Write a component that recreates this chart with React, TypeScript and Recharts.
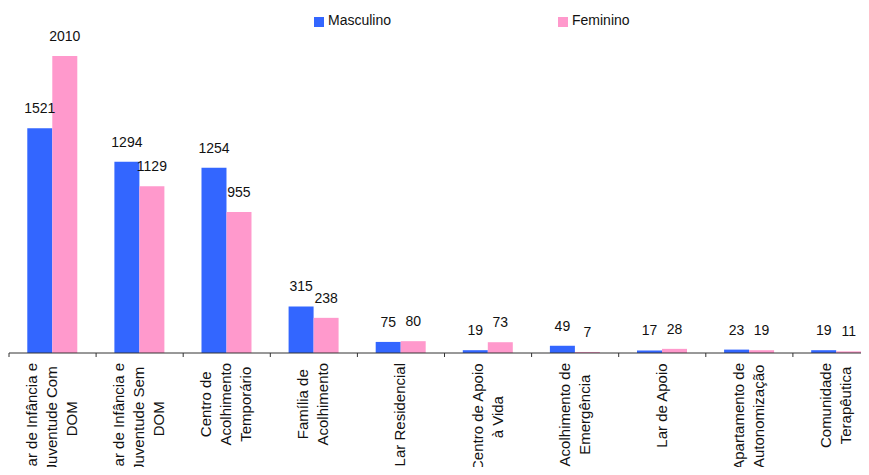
import React from 'react';
import { BarChart, Bar, XAxis, YAxis, Legend, LabelList } from 'recharts';

// Response types (each label line separated by "\n")
const categories: string[] = [
  'Lar de Infância e\nJuventude Com\nDOM',
  'Lar de Infância e\nJuventude Sem\nDOM',
  'Centro de\nAcolhimento\nTemporário',
  'Família de\nAcolhimento',
  'Lar Residencial',
  'Centro de Apoio\nà Vida',
  'Acolhimento de\nEmergência',
  'Lar de Apoio',
  'Apartamento de\nAutonomização',
  'Comunidade\nTerapêutica',
];

const masculino: number[] = [1521, 1294, 1254, 315, 75, 19, 49, 17, 23, 19];
const feminino: number[] = [2010, 1129, 955, 238, 80, 73, 7, 28, 19, 11];

const seriesNames = ['Masculino', 'Feminino'];
const seriesColors = ['#3366FF', '#FF99CC'];

const data = categories.map((name, i) => ({
  name,
  masculino: masculino[i],
  feminino: feminino[i],
}));

// Layout
const CHART_W = 872;
const CHART_H = 467;
const MARGIN = { top: 20, right: 0, bottom: 0, left: 1 };
const X_AXIS_H = 122;
const AXIS_Y = CHART_H - MARGIN.bottom - X_AXIS_H;
const BAND = (CHART_W - MARGIN.left - MARGIN.right) / categories.length;
const FONT = "'Liberation Sans', Arial, Helvetica, sans-serif";
const AXIS_COLOR = '#333333';
const TEXT_COLOR = '#111111';
const TICK_FONT_SIZE = 15;
const LINE_PITCH = 20;
const LABEL_TOP = AXIS_Y + 10;

let measureCtx: CanvasRenderingContext2D | null = null;
function measure(text: string): number {
  if (!measureCtx) {
    const c = document.createElement('canvas');
    measureCtx = c.getContext('2d');
  }
  if (!measureCtx) return text.length * TICK_FONT_SIZE * 0.5;
  measureCtx.font = `${TICK_FONT_SIZE}px ${FONT}`;
  return measureCtx.measureText(text).width;
}

// Rotated, multi-line category label with a tick mark at the left category boundary
function CategoryTick(props: any) {
  const { x, payload } = props;
  const lines: string[] = String(payload.value).split('\n');
  const widest = Math.max(...lines.map(measure));
  const boundary = x - BAND / 2;
  return (
    <g>
      <line x1={boundary} x2={boundary} y1={AXIS_Y} y2={AXIS_Y + 4} stroke={AXIS_COLOR} strokeWidth={1} />
      <g transform={`translate(${x}, ${LABEL_TOP}) rotate(-90)`}>
        {lines.map((line, i) => (
          <text
            key={i}
            x={-widest / 2}
            y={(i - (lines.length - 1) / 2) * LINE_PITCH - 1}
            textAnchor="middle"
            dominantBaseline="central"
            fontFamily={FONT}
            fontSize={TICK_FONT_SIZE}
            fill={TEXT_COLOR}
          >
            {line}
          </text>
        ))}
      </g>
    </g>
  );
}

function ValueLabel(props: any) {
  const { x, y, width, value } = props;
  return (
    <text
      x={x + width / 2}
      y={y - 15}
      textAnchor="middle"
      fontFamily={FONT}
      fontSize={14}
      fill={TEXT_COLOR}
    >
      {value}
    </text>
  );
}

const LEGEND_ITEM_X = [0, 244];

function LegendContent(props: any) {
  const payload: any[] = [...(props.payload || [])].sort(
    (a, b) => seriesNames.indexOf(a.value) - seriesNames.indexOf(b.value)
  );
  return (
    <div style={{ position: 'relative', width: 400, height: 20, fontFamily: FONT, fontSize: 14, color: TEXT_COLOR }}>
      {payload.map((item, i) => (
        <div
          key={item.value}
          style={{ position: 'absolute', left: LEGEND_ITEM_X[i], top: 0, height: 16, whiteSpace: 'nowrap' }}
        >
          <span
            style={{
              position: 'absolute',
              left: 0,
              top: 5,
              width: 10,
              height: 10,
              background: item.color,
            }}
          />
          <span style={{ position: 'absolute', left: 14, top: 0, lineHeight: '16px' }}>{item.value}</span>
        </div>
      ))}
    </div>
  );
}

export default function App() {
  return (
    <div style={{ width: 854, height: CHART_H, overflow: 'hidden', marginBottom: -8, background: '#fff' }}>
      <BarChart
        width={CHART_W}
        height={CHART_H}
        data={data}
        margin={MARGIN}
        barCategoryGap="21%"
        barGap={0}
      >
        <YAxis hide domain={[0, 2200]} />
        <XAxis
          dataKey="name"
          interval={0}
          height={X_AXIS_H}
          axisLine={{ stroke: AXIS_COLOR, strokeWidth: 1 }}
          tickLine={false}
          tick={<CategoryTick />}
        />
        <Legend
          layout="horizontal"
          verticalAlign="middle"
          content={<LegendContent />}
          wrapperStyle={{ left: 306, top: 4, width: 400 }}
        />
        <Bar dataKey="masculino" name={seriesNames[0]} fill={seriesColors[0]} isAnimationActive={false}>
          <LabelList dataKey="masculino" content={<ValueLabel />} />
        </Bar>
        <Bar dataKey="feminino" name={seriesNames[1]} fill={seriesColors[1]} isAnimationActive={false}>
          <LabelList dataKey="feminino" content={<ValueLabel />} />
        </Bar>
      </BarChart>
    </div>
  );
}
